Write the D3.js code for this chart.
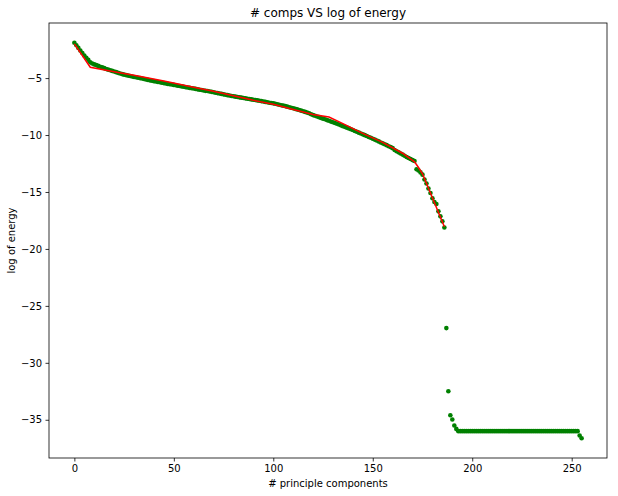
<!DOCTYPE html>
<html><head><meta charset="utf-8">
<script src="https://cdn.jsdelivr.net/npm/d3@7"></script>
<style>body{margin:0;background:#fff}svg{display:block}</style>
</head><body>
<script>
// Green scatter: log of energy for component index 0..255
const energy = [
-1.90,-2.12,-2.35,-2.58,-2.80,-3.02,-3.22,-3.40,-3.62,-3.72,
-3.80,-3.86,-3.93,-4.00,-4.06,-4.13,-4.20,-4.26,-4.31,-4.37,
-4.42,-4.48,-4.54,-4.60,-4.65,-4.70,-4.74,-4.78,-4.82,-4.86,
-4.90,-4.93,-4.97,-5.00,-5.04,-5.08,-5.12,-5.16,-5.20,-5.24,
-5.27,-5.30,-5.34,-5.37,-5.41,-5.44,-5.47,-5.51,-5.54,-5.57,
-5.60,-5.63,-5.67,-5.70,-5.73,-5.76,-5.80,-5.83,-5.86,-5.89,
-5.92,-5.95,-5.99,-6.02,-6.05,-6.09,-6.12,-6.14,-6.18,-6.21,
-6.25,-6.29,-6.32,-6.36,-6.39,-6.43,-6.46,-6.50,-6.53,-6.57,
-6.60,-6.63,-6.66,-6.69,-6.72,-6.75,-6.78,-6.81,-6.84,-6.87,
-6.90,-6.93,-6.96,-6.99,-7.02,-7.06,-7.09,-7.12,-7.16,-7.19,
-7.22,-7.26,-7.30,-7.34,-7.38,-7.42,-7.46,-7.51,-7.56,-7.60,
-7.65,-7.70,-7.75,-7.80,-7.86,-7.91,-7.97,-8.03,-8.09,-8.17,
-8.25,-8.31,-8.37,-8.43,-8.50,-8.56,-8.62,-8.69,-8.75,-8.82,
-8.88,-8.95,-9.01,-9.08,-9.15,-9.22,-9.28,-9.35,-9.42,-9.49,
-9.56,-9.64,-9.71,-9.79,-9.86,-9.94,-10.01,-10.09,-10.17,-10.24,
-10.32,-10.40,-10.48,-10.56,-10.65,-10.73,-10.81,-10.89,-10.98,-11.06,
-11.15,-11.32,-11.42,-11.52,-11.62,-11.72,-11.82,-11.93,-12.02,-12.11,
-12.20,-12.28,-13.00,-13.12,-13.28,-13.48,-13.90,-14.26,-14.70,-15.09,
-15.55,-15.88,-16.05,-16.70,-17.14,-17.58,-18.12,-26.95,-32.50,-34.60,
-34.98,-35.50,-35.80,-36.00,-36.00,-36.00,-36.00,-36.00,-36.00,-36.00,
-36.00,-36.00,-36.00,-36.00,-36.00,-36.00,-36.00,-36.00,-36.00,-36.00,
-36.00,-36.00,-36.00,-36.00,-36.00,-36.00,-36.00,-36.00,-36.00,-36.00,
-36.00,-36.00,-36.00,-36.00,-36.00,-36.00,-36.00,-36.00,-36.00,-36.00,
-36.00,-36.00,-36.00,-36.00,-36.00,-36.00,-36.00,-36.00,-36.00,-36.00,
-36.00,-36.00,-36.00,-36.00,-36.00,-36.00,-36.00,-36.00,-36.00,-36.00,
-36.00,-36.00,-36.00,-36.00,-36.38,-36.62
];
// Red fitted line: vertices (component index, log energy)
const fitIdx = [0, 8, 20, 30, 45, 60, 70, 80, 90, 100, 110, 120, 128, 135, 145, 155, 165, 171, 173, 175, 186];
const fitVal = [-2.00,-4.05,-4.45,-4.75,-5.25,-5.80,-6.15,-6.55,-6.95,-7.30,-7.75,-8.20,-8.42,-9.00,-9.85,-10.65,-11.60,-12.35,-12.85,-13.40,-18.05];
const xTicks = [0, 50, 100, 150, 200, 250];
const yTicks = [-5, -10, -15, -20, -25, -30, -35];

const W = 618, H = 496;
const m = {left: 49, right: 607, top: 23, bottom: 458};
const svg = d3.select("body").append("svg").attr("width", W).attr("height", H)
  .style("font-family", "DejaVu Sans, sans-serif");

const n = energy.length - 1;
const x = d3.scaleLinear().domain([-0.05 * n, n * 1.05]).range([m.left, m.right]);
const ymax = d3.max(energy), ymin = d3.min(energy), pad = (ymax - ymin) * 0.05;
const y = d3.scaleLinear().domain([ymin - pad, ymax + pad]).range([m.bottom, m.top]);

const g = svg.append("g");
g.selectAll("circle").data(energy).join("circle")
  .attr("cx", (d, i) => x(i)).attr("cy", d => y(d)).attr("r", 2.3)
  .attr("fill", "#008000");

const line = d3.line().x(d => x(d[0])).y(d => y(d[1]));
g.append("path").datum(fitIdx.map((v, i) => [v, fitVal[i]]))
  .attr("d", line).attr("fill", "none").attr("stroke", "#ff0000").attr("stroke-width", 1.5);

// frame
svg.append("rect").attr("x", m.left).attr("y", m.top)
  .attr("width", m.right - m.left).attr("height", m.bottom - m.top)
  .attr("fill", "none").attr("stroke", "#000").attr("stroke-width", 0.8);

const fmt = d => (d < 0 ? "\u2212" + Math.abs(d) : String(d));
const xa = svg.append("g").attr("transform", `translate(0,${m.bottom})`)
  .call(d3.axisBottom(x).tickValues(xTicks).tickFormat(fmt).tickSizeOuter(0).tickSize(3.5).tickPadding(3.5));
const ya = svg.append("g").attr("transform", `translate(${m.left},0)`)
  .call(d3.axisLeft(y).tickValues(yTicks).tickFormat(fmt).tickSizeOuter(0).tickSize(3.5).tickPadding(3.5));
[xa, ya].forEach(a => {
  a.select(".domain").remove();
  a.selectAll("text").attr("font-size", 10).attr("fill", "#000").attr("font-family", "DejaVu Sans, sans-serif");
  a.selectAll("line").attr("stroke", "#000").attr("stroke-width", 0.8);
});

svg.append("text").attr("x", (m.left + m.right) / 2).attr("y", 17)
  .attr("text-anchor", "middle").attr("font-size", 12).attr("fill", "#000")
  .text("# comps VS log of energy");
svg.append("text").attr("x", (m.left + m.right) / 2).attr("y", 487)
  .attr("text-anchor", "middle").attr("font-size", 10).attr("fill", "#000")
  .text("# principle components");
svg.append("text").attr("transform", `translate(15,${(m.top + m.bottom) / 2}) rotate(-90)`)
  .attr("text-anchor", "middle").attr("font-size", 10).attr("fill", "#000")
  .text("log of energy");
</script>
</body></html>
